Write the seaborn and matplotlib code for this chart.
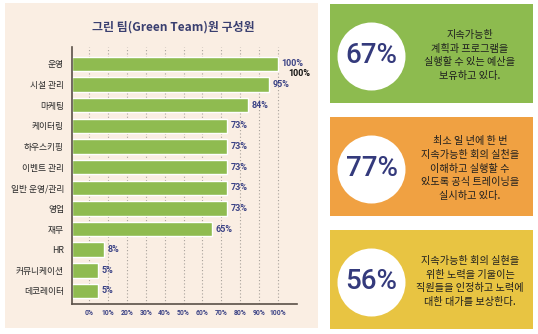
import matplotlib
matplotlib.use("Agg")
import matplotlib.pyplot as plt
import seaborn as sns
import pandas as pd
from matplotlib.patches import Rectangle, Circle

# Green Team membership by department (%)
departments = ["운영", "시설 관리", "마케팅", "케이터링", "하우스키핑", "이벤트 관리",
               "일반 운영/관리", "영업", "재무", "HR", "커뮤니케이션", "데코레이터"]
shares = [100, 95, 84, 73, 73, 73, 73, 73, 65, 8, 5, 5]
x_ticks = [0, 10, 20, 30, 40, 50, 60, 70, 80, 90, 100]
x_tick_labels = [f"{t}%" for t in x_ticks]
chart_title = "그린 팀(Green Team)원 구성원"

# Key figures shown in the side panels
stat_values = ["67%", "77%", "56%"]
stat_texts = [
    "지속가능한\n계획과 프로그램을\n실행할 수 있는 예산을\n보유하고 있다.",
    "최소 일 년에 한 번\n지속가능한 회의 실천을\n이해하고 실행할 수\n있도록 공식 트레이닝을\n실시하고 있다.",
    "지속가능한 회의 실현을\n위한 노력을 기울이는\n직원들을 인정하고 노력에\n대한 대가를 보상한다.",
]

sns.set_theme(style="white")
plt.rcParams["font.family"] = ["Noto Sans CJK KR", "DejaVu Sans"]

BEIGE = "#faeee3"
BAR_GREEN = "#8fbb50"
NAVY = "#3b4285"
PANEL_COLORS = ["#8dbb4f", "#f0a142", "#e8c442"]
NUM_FONT = ["Roboto", "DejaVu Sans"]

W, H = 538, 334
fig = plt.figure(figsize=(W / 100, H / 100), dpi=100, facecolor="white")

# Background layer in pixel coordinates
bg = fig.add_axes([0, 0, 1, 1], zorder=0)
bg.set_xlim(0, W)
bg.set_ylim(H, 0)
bg.axis("off")
bg.add_patch(Rectangle((5, 3), 313, 325, facecolor=BEIGE, edgecolor="none"))
bg.text(173, 27, chart_title, ha="center", va="center", fontsize=8.6,
        fontweight="bold", color="#3a3f70")

# Side panels
panel_tops = [4, 117, 230]
panel_h = 99
for top, color, val, txt in zip(panel_tops, PANEL_COLORS, stat_values, stat_texts):
    bg.add_patch(Rectangle((330, top), 203, panel_h, facecolor=color, edgecolor="none"))
    cy = top + panel_h / 2 + 3
    bg.add_patch(Circle((371.5, cy), 34, facecolor="white", edgecolor="none"))
    bg.text(371.5, cy - 1, val, ha="center", va="center", fontsize=20,
            family=NUM_FONT, fontweight="medium", color="#343a7c")
    bg.text(470, cy - 1, txt, ha="center", va="center", fontsize=7.3,
            color="#1e1e1e", linespacing=1.45)

# Bar chart
df = pd.DataFrame({"dept": departments, "share": shares})
ax = fig.add_axes([71.5 / W, 1 - 304 / H, (297 - 71.5) / W, (304 - 47) / H], zorder=1)
ax.patch.set_alpha(0)
sns.barplot(data=df, x="share", y="dept", orient="h", color=BAR_GREEN,
            saturation=1, width=0.7, ax=ax, zorder=2)

xmin, xmax = -9.26, 110.05
ax.set_xlim(xmin, xmax)
ax.set_ylim(11.63, -0.82)

# bars run from the axis line to their value
for patch in ax.patches:
    right = patch.get_x() + patch.get_width()
    patch.set_x(xmin)
    patch.set_width(right - xmin)

ax.set_xticks(x_ticks)
ax.set_xticklabels(x_tick_labels, fontsize=4.9, fontweight="bold",
                   color=NAVY, family=NUM_FONT)
ax.tick_params(axis="x", length=0, pad=3.5)
ax.tick_params(axis="y", length=0, pad=5.4, labelsize=6.3, labelcolor="#2a2a2a")
ax.set_xlabel("")
ax.set_ylabel("")

ax.grid(axis="x", linestyle=(0, (1, 2)), color="#a8a29b", linewidth=0.8)
ax.grid(axis="y", visible=False)
ax.set_axisbelow(True)

for s in ["top", "right"]:
    ax.spines[s].set_visible(False)
for s in ["left", "bottom"]:
    ax.spines[s].set_color("#5a5048")
    ax.spines[s].set_linewidth(1.2)

for i, v in enumerate(shares):
    ax.text(v + 1.9, i, f"{v}%", ha="left", va="center", fontsize=6.5,
            fontweight="bold", color=NAVY, family=NUM_FONT)
ax.text(shares[0] + 5.3, 0.45, f"{shares[0]}%", ha="left", va="center",
        fontsize=6.5, fontweight="bold", color="#111111", family=NUM_FONT)

fig.savefig("out.png", dpi=100, facecolor="white")
